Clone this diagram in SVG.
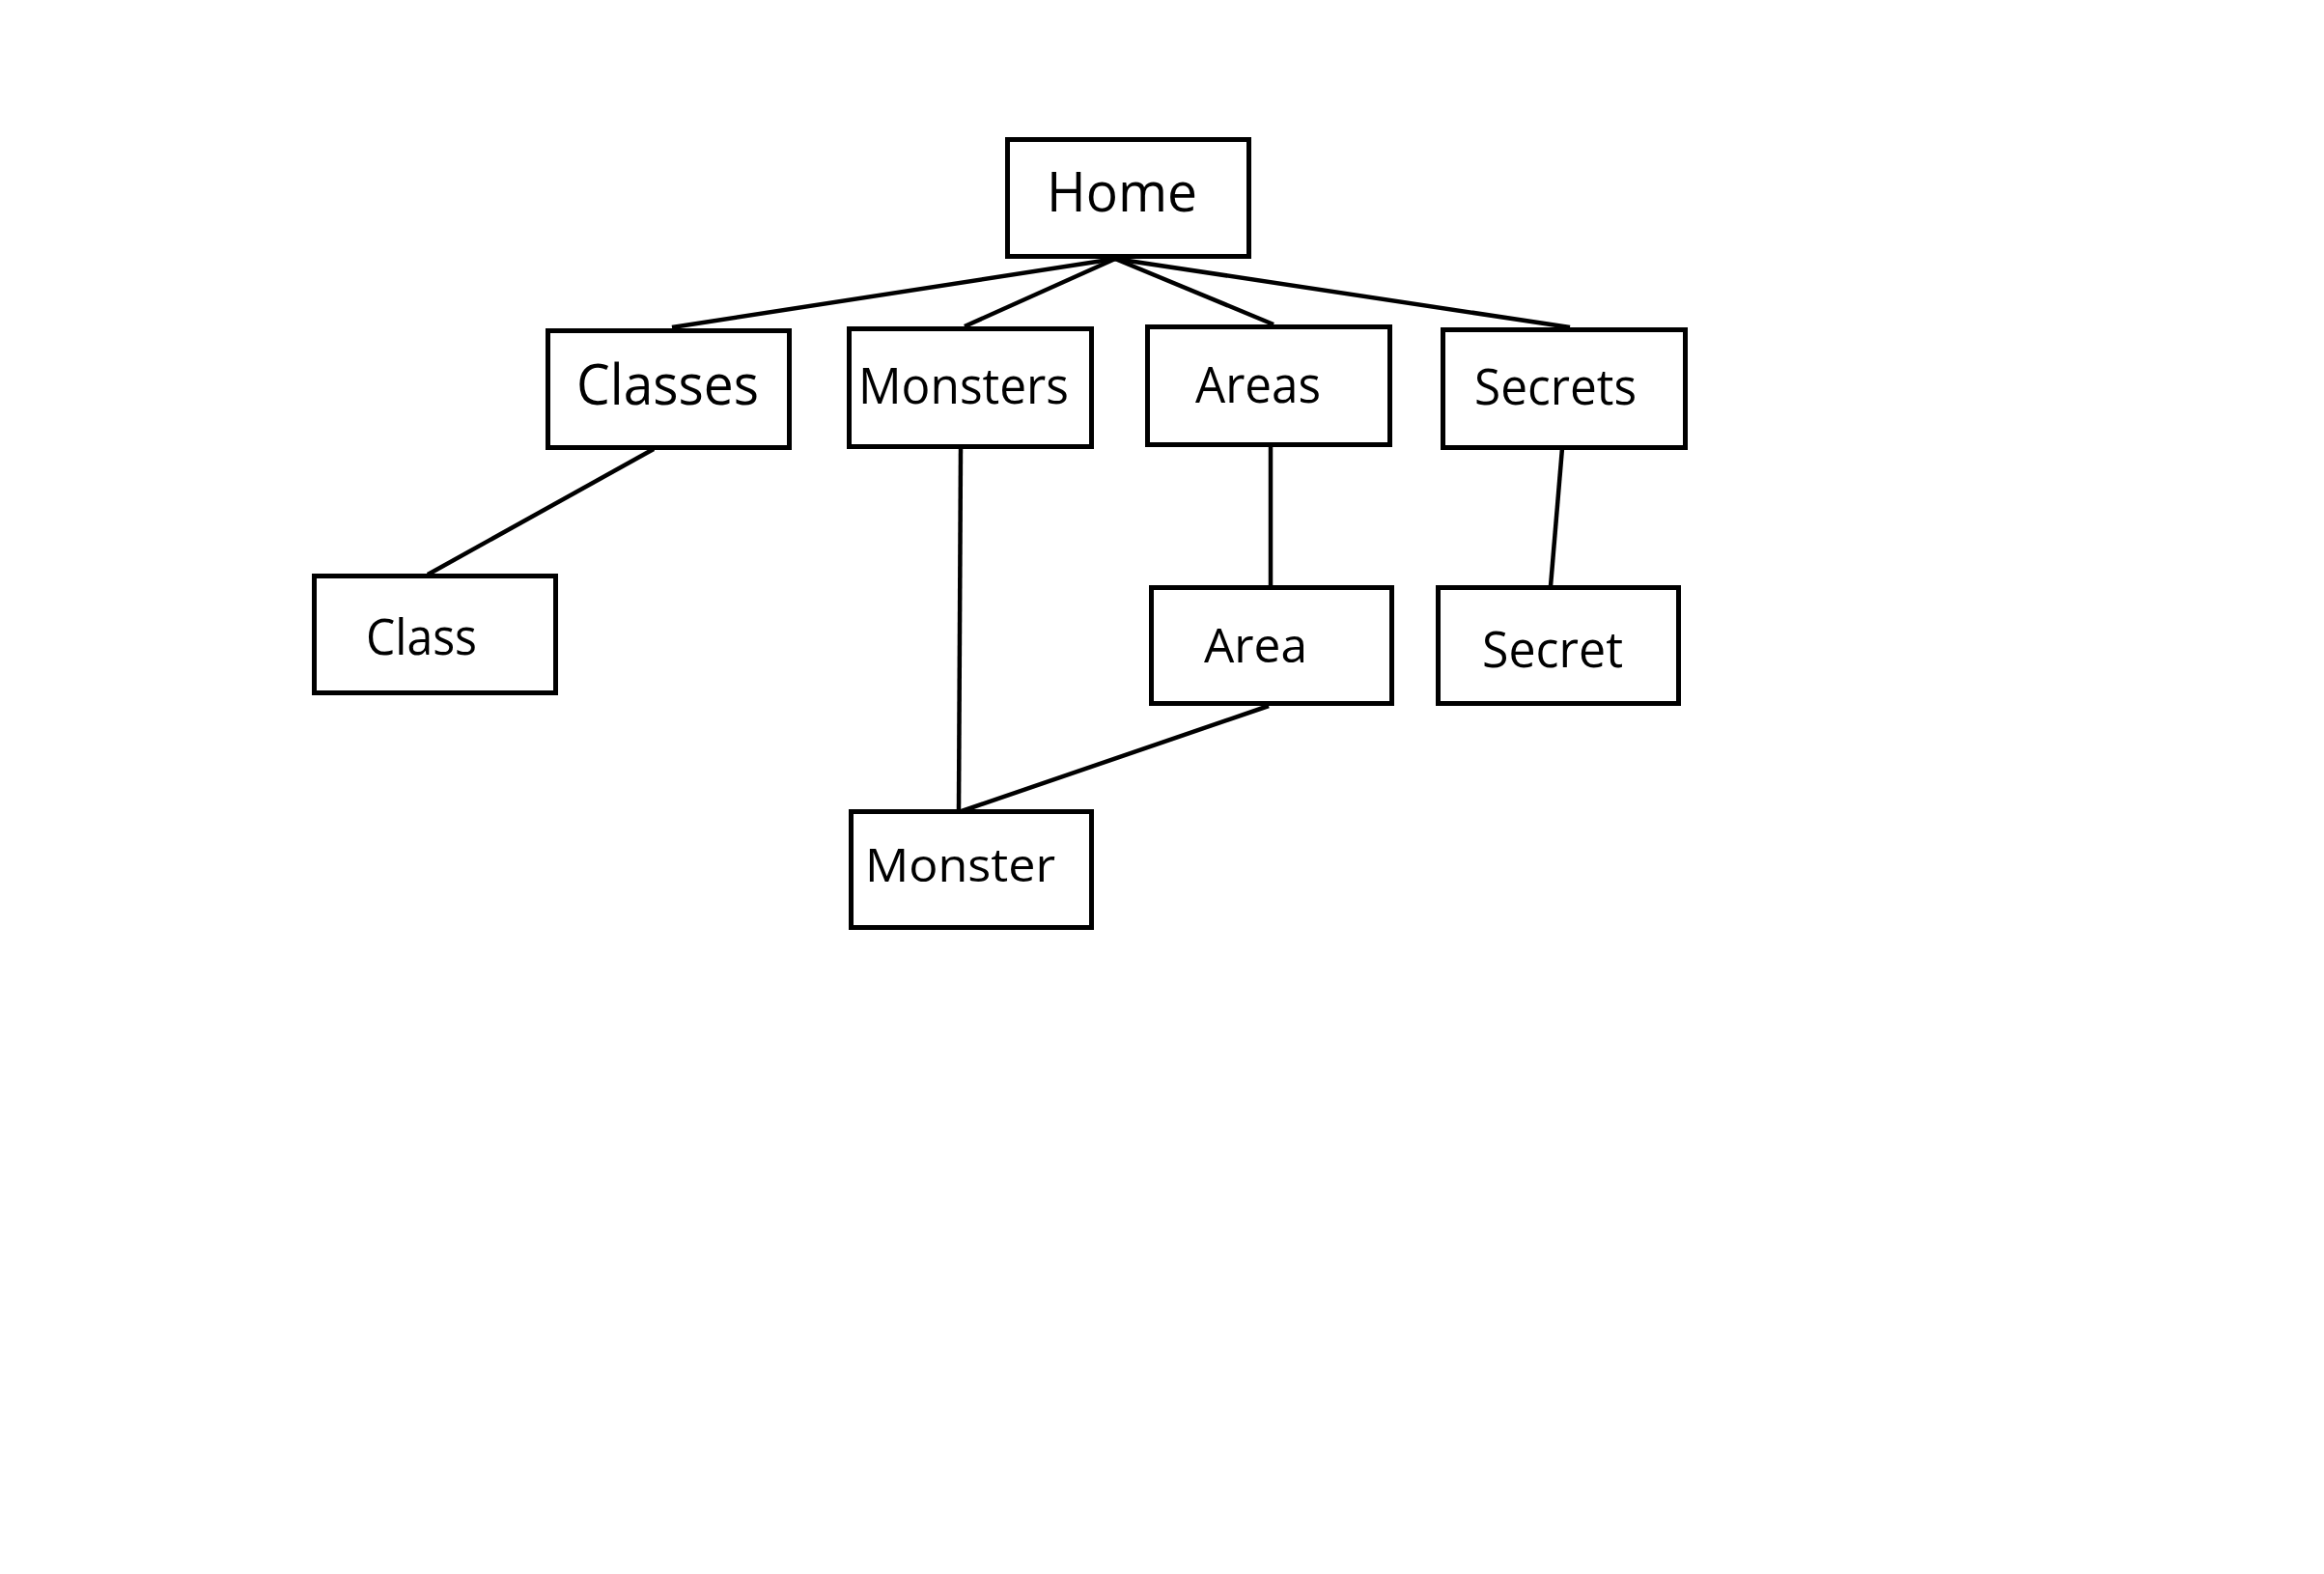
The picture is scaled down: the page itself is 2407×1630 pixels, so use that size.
<svg xmlns="http://www.w3.org/2000/svg" width="2407" height="1630" viewBox="0 0 2407 1630">
  <style>
    .box { fill: #ffffff; stroke: #000000; stroke-width: 5; }
    .lbl { font-family: "Open Sans", "Noto Sans", "DejaVu Sans", sans-serif; fill: #000000; }
    .link { stroke: #000000; stroke-width: 4.5; fill: none; stroke-linecap: butt; }
  </style>
  <rect x="0" y="0" width="2407" height="1630" fill="#ffffff"/>

  <!-- connectors -->
  <g id="connectors">
    <line class="link" x1="1155" y1="268" x2="696" y2="339"/>
    <line class="link" x1="1155" y1="268" x2="999" y2="338"/>
    <line class="link" x1="1155" y1="268" x2="1319" y2="336"/>
    <line class="link" x1="1155" y1="268" x2="1626" y2="339"/>
    <line class="link" x1="677" y1="465" x2="443" y2="595"/>
    <line class="link" x1="995" y1="464" x2="993" y2="840"/>
    <line class="link" x1="1316" y1="462" x2="1316" y2="607"/>
    <line class="link" x1="1314" y1="731" x2="996" y2="840"/>
    <line class="link" x1="1618" y1="464" x2="1606" y2="607"/>
  </g>

  <!-- nodes -->
  <g id="node-home">
    <rect class="box" x="1043.5" y="144.5" width="250" height="121"/>
    <text class="lbl" x="1084" y="219" font-size="57" textLength="156" lengthAdjust="spacingAndGlyphs">Home</text>
  </g>
  <g id="node-classes">
    <rect class="box" x="567.5" y="342.5" width="250" height="121"/>
    <text class="lbl" x="597" y="419" font-size="58" textLength="189" lengthAdjust="spacingAndGlyphs">Classes</text>
  </g>
  <g id="node-monsters">
    <rect class="box" x="879.5" y="340.5" width="251" height="122"/>
    <text class="lbl" x="889" y="418" font-size="51" textLength="218" lengthAdjust="spacingAndGlyphs">Monsters</text>
  </g>
  <g id="node-areas">
    <rect class="box" x="1188.5" y="338.5" width="251" height="122"/>
    <text class="lbl" x="1238" y="417" font-size="51" textLength="130" lengthAdjust="spacingAndGlyphs">Areas</text>
  </g>
  <g id="node-secrets">
    <rect class="box" x="1494.5" y="341.5" width="251" height="122"/>
    <text class="lbl" x="1527" y="419" font-size="51" textLength="168" lengthAdjust="spacingAndGlyphs">Secrets</text>
  </g>
  <g id="node-class">
    <rect class="box" x="325.5" y="596.5" width="250" height="121"/>
    <text class="lbl" x="379" y="678" font-size="51" textLength="115" lengthAdjust="spacingAndGlyphs">Class</text>
  </g>
  <g id="node-area">
    <rect class="box" x="1192.5" y="608.5" width="249" height="120"/>
    <text class="lbl" x="1247" y="686" font-size="50" textLength="107" lengthAdjust="spacingAndGlyphs">Area</text>
  </g>
  <g id="node-secret">
    <rect class="box" x="1489.5" y="608.5" width="249" height="120"/>
    <text class="lbl" x="1535" y="691" font-size="51" textLength="146" lengthAdjust="spacingAndGlyphs">Secret</text>
  </g>
  <g id="node-monster">
    <rect class="box" x="881.5" y="840.5" width="249" height="120"/>
    <text class="lbl" x="896" y="913" font-size="48" textLength="197" lengthAdjust="spacingAndGlyphs">Monster</text>
  </g>
</svg>
